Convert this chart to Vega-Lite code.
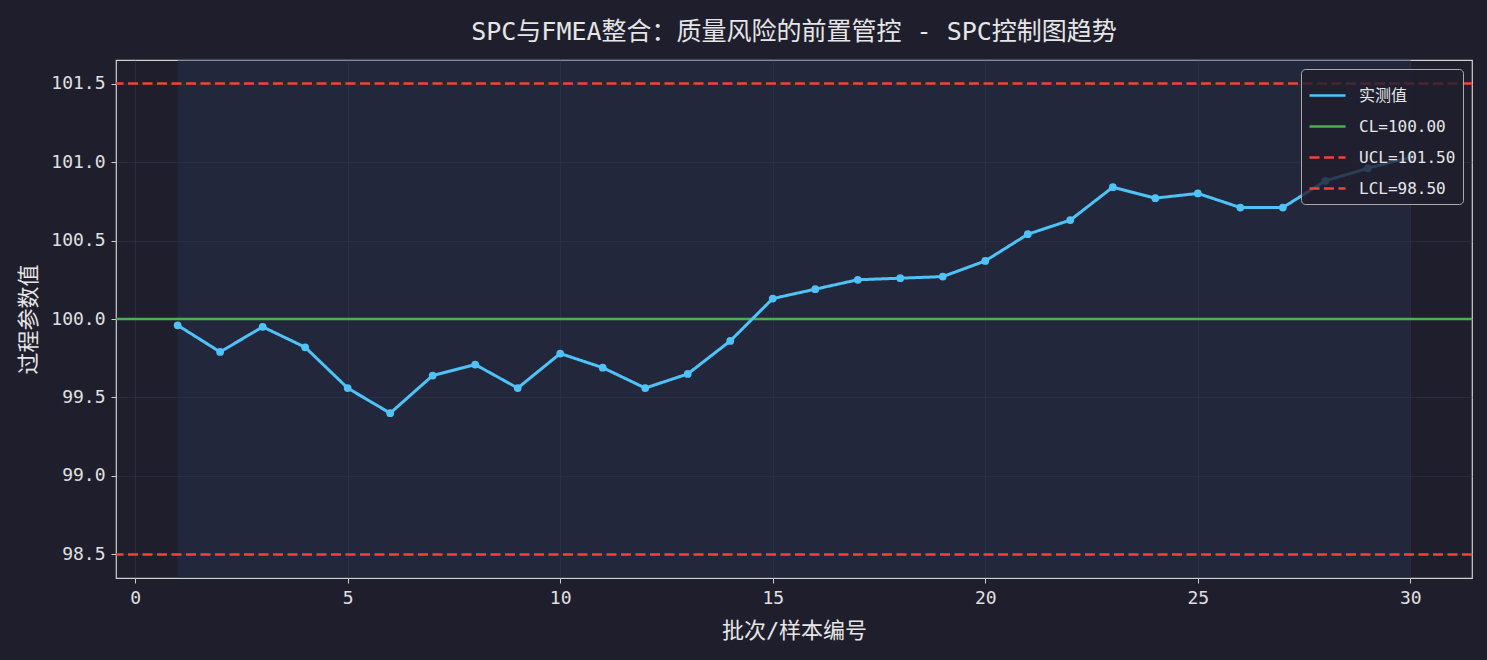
{
  "$schema": "https://vega.github.io/schema/vega-lite/v6.json",
  "autosize": "none",
  "width": 1356,
  "height": 518,
  "padding": {"left": 116, "top": 60, "right": 15, "bottom": 82},
  "background": "#1e1e2d",
  "title": {
    "text": "SPC与FMEA整合：质量风险的前置管控 - SPC控制图趋势",
    "font": "DejaVu Sans Mono, Noto Sans CJK SC",
    "fontSize": 25,
    "fontWeight": "normal",
    "color": "#e6e6e6",
    "anchor": "middle",
    "offset": 15
  },
  "config": {
    "font": "DejaVu Sans Mono, Noto Sans CJK SC",
    "view": {"stroke": "#cfcfcf", "strokeWidth": 1.2, "fill": "#1e1e2d"},
    "axis": {
      "labelColor": "#e0e0e0",
      "labelFontSize": 18,
      "titleColor": "#e6e6e6",
      "titleFontSize": 22,
      "titleFontWeight": "normal",
      "domain": false,
      "tickColor": "#cfcfcf",
      "tickSize": 5,
      "gridColor": "#3a3f55",
      "gridOpacity": 0.45
    }
  },
  "datasets": {
    "samples": [
      {"batch": 1, "value": 99.96, "series": "实测值"},
      {"batch": 2, "value": 99.79, "series": "实测值"},
      {"batch": 3, "value": 99.95, "series": "实测值"},
      {"batch": 4, "value": 99.82, "series": "实测值"},
      {"batch": 5, "value": 99.56, "series": "实测值"},
      {"batch": 6, "value": 99.40, "series": "实测值"},
      {"batch": 7, "value": 99.64, "series": "实测值"},
      {"batch": 8, "value": 99.71, "series": "实测值"},
      {"batch": 9, "value": 99.56, "series": "实测值"},
      {"batch": 10, "value": 99.78, "series": "实测值"},
      {"batch": 11, "value": 99.69, "series": "实测值"},
      {"batch": 12, "value": 99.56, "series": "实测值"},
      {"batch": 13, "value": 99.65, "series": "实测值"},
      {"batch": 14, "value": 99.86, "series": "实测值"},
      {"batch": 15, "value": 100.13, "series": "实测值"},
      {"batch": 16, "value": 100.19, "series": "实测值"},
      {"batch": 17, "value": 100.25, "series": "实测值"},
      {"batch": 18, "value": 100.26, "series": "实测值"},
      {"batch": 19, "value": 100.27, "series": "实测值"},
      {"batch": 20, "value": 100.37, "series": "实测值"},
      {"batch": 21, "value": 100.54, "series": "实测值"},
      {"batch": 22, "value": 100.63, "series": "实测值"},
      {"batch": 23, "value": 100.84, "series": "实测值"},
      {"batch": 24, "value": 100.77, "series": "实测值"},
      {"batch": 25, "value": 100.80, "series": "实测值"},
      {"batch": 26, "value": 100.71, "series": "实测值"},
      {"batch": 27, "value": 100.71, "series": "实测值"},
      {"batch": 28, "value": 100.88, "series": "实测值"},
      {"batch": 29, "value": 100.96, "series": "实测值"},
      {"batch": 30, "value": 101.03, "series": "实测值"}
    ],
    "limits": [
      {"series": "CL=100.00", "value": 100.0},
      {"series": "UCL=101.50", "value": 101.5},
      {"series": "LCL=98.50", "value": 98.5}
    ],
    "band": [{"start": 1, "end": 30}]
  },
  "layer": [
    {
      "data": {"name": "band"},
      "mark": {"type": "rect", "fill": "#2a3450", "opacity": 0.45},
      "encoding": {
        "x": {"field": "start", "type": "quantitative",
              "scale": {"domain": [-0.45, 31.45], "nice": false, "zero": false}},
        "x2": {"field": "end"}
      }
    },
    {
      "data": {"name": "limits"},
      "mark": {"type": "rule", "strokeWidth": 2.5},
      "encoding": {
        "y": {"field": "value", "type": "quantitative"},
        "color": {"field": "series", "type": "nominal"},
        "strokeDash": {"field": "series", "type": "nominal"}
      }
    },
    {
      "data": {"name": "samples"},
      "mark": {"type": "line", "strokeWidth": 3, "point": {"filled": true, "size": 60, "opacity": 1}},
      "encoding": {
        "x": {
          "field": "batch", "type": "quantitative",
          "scale": {"domain": [-0.45, 31.45], "nice": false, "zero": false},
          "axis": {"title": "批次/样本编号", "values": [0, 5, 10, 15, 20, 25, 30], "titlePadding": 13, "labelPadding": 6}
        },
        "y": {
          "field": "value", "type": "quantitative",
          "scale": {"domain": [98.35, 101.65], "nice": false, "zero": false},
          "axis": {"title": "过程参数值", "values": [98.5, 99.0, 99.5, 100.0, 100.5, 101.0, 101.5], "format": ".1f", "titlePadding": 10, "labelPadding": 6}
        },
        "color": {
          "field": "series", "type": "nominal",
          "scale": {
            "domain": ["实测值", "CL=100.00", "UCL=101.50", "LCL=98.50"],
            "range": ["#4fc3f7", "#4caf50", "#f44336", "#f44336"]
          },
          "legend": {
            "title": null,
            "orient": "top-right",
            "offset": 9,
            "symbolType": "stroke",
            "symbolStrokeWidth": 2.5,
            "symbolSize": 1300,
            "labelColor": "#e6e6e6",
            "labelFontSize": 16,
            "labelOffset": 12,
            "rowPadding": 3,
            "padding": 7,
            "fillColor": "rgba(30,30,45,0.8)",
            "strokeColor": "#aaaaaa",
            "cornerRadius": 4
          }
        },
        "strokeDash": {
          "field": "series", "type": "nominal",
          "scale": {
            "domain": ["实测值", "CL=100.00", "UCL=101.50", "LCL=98.50"],
            "range": [[1, 0], [1, 0], [10, 4.5], [10, 4.5]]
          },
          "legend": {
            "title": null,
            "orient": "top-right",
            "offset": 9,
            "symbolType": "stroke",
            "symbolStrokeWidth": 2.5,
            "symbolSize": 1300,
            "labelColor": "#e6e6e6",
            "labelFontSize": 16,
            "labelOffset": 12,
            "rowPadding": 3,
            "padding": 7,
            "fillColor": "rgba(30,30,45,0.8)",
            "strokeColor": "#aaaaaa",
            "cornerRadius": 4
          }
        }
      }
    }
  ]
}
